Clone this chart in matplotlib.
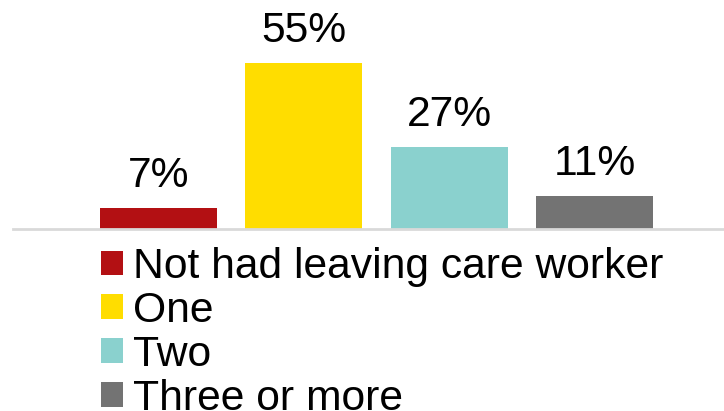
import matplotlib
matplotlib.use("Agg")
import matplotlib.pyplot as plt
from matplotlib.patches import Patch

categories = ["Not had leaving care worker", "One", "Two", "Three or more"]
values = [7, 55, 27, 11]
labels = ["7%", "55%", "27%", "11%"]
colors = ["#B31013", "#FFDD00", "#8AD1CE", "#737373"]

plt.rcParams["font.family"] = ["Liberation Sans", "DejaVu Sans"]

W, H = 724, 411
fig = plt.figure(figsize=(W / 100, H / 100), dpi=100)

# axes: baseline at y=229px, 3.02 px per percent
base_y = 229
px_per = 3.02
top = 0
ax = fig.add_axes([13 / W, (H - base_y) / H, (W - 13) / W, (base_y - top) / H])
ax.set_ylim(0, (base_y - top) / px_per)
ax.set_xlim(-1.0, 3.89)

x = range(len(values))
bars = ax.bar(x, values, width=0.804, color=colors)
for xi, v, lab in zip(x, values, labels):
    ax.text(xi, v + 4.0, lab, ha="center", va="bottom", fontsize=30.7)

for s in ["top", "right", "left"]:
    ax.spines[s].set_visible(False)
ax.spines["bottom"].set_color("#D9D9D9")
ax.spines["bottom"].set_linewidth(2)
ax.set_xticks([])
ax.set_yticks([])
ax.patch.set_visible(False)

handles = [Patch(facecolor=c, edgecolor="none") for c in colors]
fig.legend(handles, categories, loc="upper left",
           bbox_to_anchor=(101 / W, 1 - 247 / H), frameon=False,
           fontsize=30.7, handlelength=0.51, handleheight=0.51,
           handletextpad=0.23, labelspacing=0.09, borderpad=0,
           borderaxespad=0)

fig.savefig("out.png", dpi=100)
